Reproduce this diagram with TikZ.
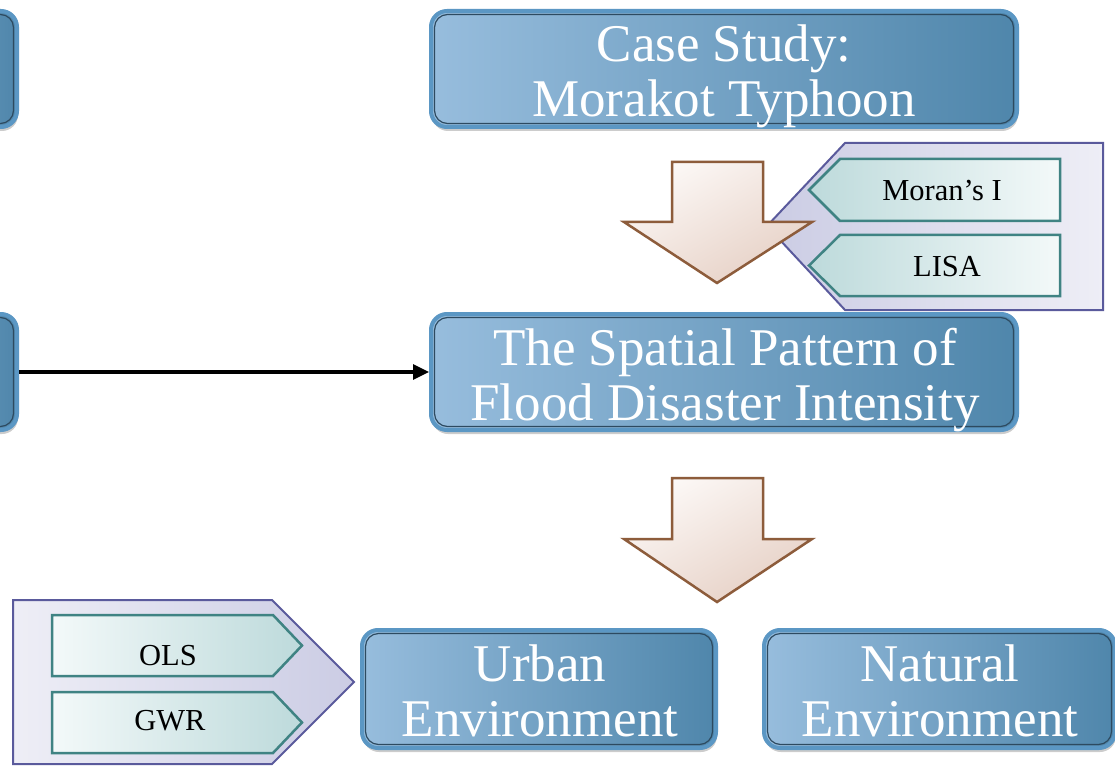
\documentclass[tikz,border=0pt]{standalone}
\usepackage{fontspec}
\setmainfont{Liberation Serif}
\usetikzlibrary{arrows.meta,shadows}
\definecolor{rim}{HTML}{5B97C4}
\definecolor{innerln}{HTML}{2D4A60}
\definecolor{blL}{HTML}{97BDDD}
\definecolor{blR}{HTML}{4F86AB}
\definecolor{pentEdge}{HTML}{5A5A9C}
\definecolor{pentDark}{HTML}{CBCCE4}
\definecolor{pentLight}{HTML}{EEEEF6}
\definecolor{chevEdge}{HTML}{3F8383}
\definecolor{chevDark}{HTML}{BDDADB}
\definecolor{chevLight}{HTML}{F3F9F9}
\definecolor{arEdge}{HTML}{8D5C3B}
\definecolor{arLight}{HTML}{FCF8F6}
\definecolor{arDark}{HTML}{E6D0C5}
\tikzset{
  bluebox/.style={draw=rim, line width=4pt, rounded corners=16pt,
    left color=blL, right color=blR, inner sep=0pt,
    drop shadow={shadow xshift=1pt, shadow yshift=-4pt, opacity=0.2, fill=black},
    path picture={\draw[innerln, line width=1.2pt, rounded corners=13pt]
      ([xshift=3.5pt,yshift=-3.5pt]path picture bounding box.north west) rectangle
      ([xshift=-3.5pt,yshift=3.5pt]path picture bounding box.south east);}},
  bigtext/.style={text=white, font=\fontsize{53}{55}\selectfont, inner sep=0pt, anchor=base},
  smalltext/.style={text=black, font=\fontsize{30.5}{32}\selectfont, inner sep=0pt, anchor=base},
  pent/.style={draw=pentEdge, line width=2pt, line join=miter},
  chev/.style={draw=chevEdge, line width=2.5pt, line join=miter},
  blockarrow/.style={draw=arEdge, line width=2.5pt, line join=miter,
    top color=arLight, bottom color=arDark, shading angle=30},
  link/.style={line width=3.2pt, -{Triangle[length=16pt,width=15pt]}}
}
\begin{document}
\begin{tikzpicture}[x=1pt,y=-1pt]
\useasboundingbox (0,0) rectangle (1115,767);
\fill[white] (0,0) rectangle (1115,767);
\clip (0,0) rectangle (1115,767);

% blue boxes
\node[bluebox, minimum width=200pt, minimum height=116pt] (lefttop) at (-83,69) {};
\node[bluebox, minimum width=200pt, minimum height=116pt] (leftmid) at (-83,372) {};
\node[bluebox, minimum width=586pt, minimum height=116pt] (case) at (724,69) {};
\node[bluebox, minimum width=586pt, minimum height=116pt] (pattern) at (724,372) {};
\node[bluebox, minimum width=354pt, minimum height=118pt] (urban) at (539,689) {};
\node[bluebox, minimum width=351pt, minimum height=118pt] (natural) at (939.5,689) {};

% box texts
\node[bigtext] (caseA) at (724,62) {Case Study:};
\node[bigtext] (caseB) at (724,117) {Morakot Typhoon};
\node[bigtext] (patA) at (725,365) {The Spatial Pattern of};
\node[bigtext] (patB) at (725,420) {Flood Disaster Intensity};
\node[bigtext] (urbA) at (540,681) {Urban};
\node[bigtext] (urbB) at (540,736) {Environment};
\node[bigtext] (natA) at (940,681) {Natural};
\node[bigtext] (natB) at (940,736) {Environment};

% connector
\draw[link] (leftmid.east) -- (pattern.west);

% right callout
\draw[pent, left color=pentDark, right color=pentLight]
  (845,143) -- (1103,143) -- (1103,310) -- (845,310) -- (767,226) -- cycle;
\draw[chev, left color=chevDark, right color=chevLight]
  (840,159) -- (1060,159) -- (1060,221) -- (840,221) -- (809,190) -- cycle;
\draw[chev, left color=chevDark, right color=chevLight]
  (840,235) -- (1060,235) -- (1060,296) -- (840,296) -- (809,265.5) -- cycle;
\node[smalltext] (moran) at (942,201) {Moran’s I};
\node[smalltext] (lisa) at (947,276) {LISA};

% left callout
\draw[pent, left color=pentLight, right color=pentDark]
  (13,600) -- (272,600) -- (354,682) -- (272,764) -- (13,764) -- cycle;
\draw[chev, left color=chevLight, right color=chevDark]
  (52,615) -- (273,615) -- (302,645.5) -- (273,676) -- (52,676) -- cycle;
\draw[chev, left color=chevLight, right color=chevDark]
  (52,692) -- (273,692) -- (302,722.5) -- (273,753) -- (52,753) -- cycle;
\node[smalltext] (ols) at (168,665) {OLS};
\node[smalltext] (gwr) at (170,730) {GWR};

% block arrows
\draw[blockarrow] (672,162) -- (763,162) -- (763,222) -- (812,222) -- (717,283)
  -- (624,222) -- (672,222) -- cycle;
\draw[blockarrow] (672,478) -- (763,478) -- (763,539) -- (812,539) -- (717,602)
  -- (624,539) -- (672,539) -- cycle;
\end{tikzpicture}
\end{document}
